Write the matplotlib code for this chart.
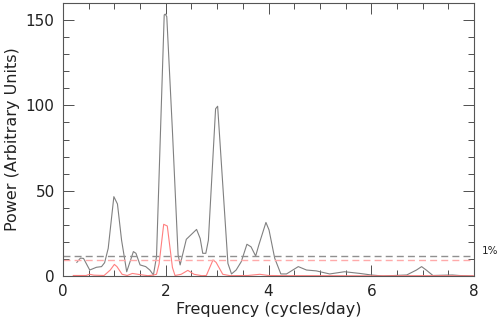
import matplotlib
matplotlib.use("Agg")
import matplotlib.pyplot as plt
from matplotlib.ticker import MultipleLocator

# Data
gray_x = [0.27, 0.34, 0.40, 0.52, 0.65, 0.75, 0.81, 0.88, 0.99, 1.06, 1.14, 1.24,
          1.37, 1.42, 1.50, 1.61, 1.69, 1.76, 1.82, 1.97, 1.99, 2.02, 2.13, 2.24,
          2.28, 2.40, 2.60, 2.67, 2.72, 2.78, 2.83, 2.97, 3.01, 3.21, 3.28, 3.37,
          3.47, 3.58, 3.66, 3.75, 3.81, 3.95, 4.01, 4.12, 4.24, 4.35, 4.58, 4.74,
          4.93, 5.19, 5.48, 5.78, 6.00, 6.23, 6.69, 6.88, 6.98, 7.07, 7.20, 7.58,
          7.71, 7.97]
gray_y = [8.0, 10.5, 10.3, 3.5, 5.1, 5.5, 7.8, 16.2, 46.5, 42.2, 21.0, 2.5,
          14.3, 13.3, 6.5, 5.5, 3.5, 0.6, 11.3, 153.0, 153.5, 152.0, 85.0, 12.5,
          6.5, 21.5, 27.3, 22.0, 13.3, 13.3, 21.0, 98.0, 99.5, 7.4, 1.2, 3.5,
          8.4, 18.6, 17.1, 11.7, 18.0, 31.4, 27.0, 10.5, 1.2, 1.2, 5.5, 3.5,
          3.0, 1.2, 2.5, 1.5, 0.6, 0.0, 0.6, 3.5, 5.5, 3.5, 0.3, 0.6,
          0.3, 0.0]

red_x = [0.20, 0.45, 0.52, 0.60, 0.80, 0.92, 1.00, 1.05, 1.15, 1.25, 1.35, 1.50,
         1.65, 1.75, 1.82, 1.87, 1.96, 2.03, 2.13, 2.18, 2.30, 2.43, 2.55, 2.70,
         2.79, 2.92, 2.98, 3.11, 3.25, 3.60, 3.83, 4.00, 4.30, 5.00, 6.00, 7.00,
         8.00]
red_y = [0.3, 0.3, 1.0, 0.5, 0.3, 3.5, 6.8, 5.5, 1.0, 0.3, 1.5, 0.8,
         0.2, 0.5, 1.0, 7.0, 30.3, 29.3, 5.0, 0.3, 1.0, 3.3, 1.0, 0.2,
         0.3, 9.4, 8.0, 1.0, 0.2, 0.3, 1.0, 0.3, 0.2, 0.2, 0.1, 0.2,
         0.1]

gray_level = 12.0
red_level = 9.5
level_label = "1%"

plt.rcParams['font.family'] = ['DejaVu Sans']

fig = plt.figure(figsize=(5.0, 3.24), dpi=100)
ax = fig.add_axes([63/500, 1 - 276/324, (474-63)/500, (276-3)/324])

ax.plot(gray_x, gray_y, color='#808080', lw=0.8)
ax.plot(red_x, red_y, color='#ff7f7f', lw=0.8)
ax.axhline(gray_level, color='#909090', lw=1.0, ls=(0, (5, 3)))
ax.axhline(red_level, color='#ffaaaa', lw=1.0, ls=(0, (5, 3)))
ax.text(1.02, gray_level, level_label, transform=ax.get_yaxis_transform(),
        fontsize=7.5, va='bottom', ha='left', color='#222222')

ax.set_xlim(0, 8)
ax.set_ylim(0, 160)
ax.xaxis.set_major_locator(MultipleLocator(2))
ax.xaxis.set_minor_locator(MultipleLocator(0.5))
ax.yaxis.set_major_locator(MultipleLocator(50))
ax.yaxis.set_minor_locator(MultipleLocator(10))
ax.tick_params(which='both', direction='in', top=True, right=True,
               colors='#333333', labelcolor='#222222', labelsize=11, width=0.6)
ax.tick_params(which='major', length=8, pad=6)
ax.tick_params(which='minor', length=4)
for s in ax.spines.values():
    s.set_color('#555555')
    s.set_linewidth(0.8)

ax.set_xlabel("Frequency (cycles/day)", fontsize=11.5, color='#222222', labelpad=2)
ax.set_ylabel("Power (Arbitrary Units)", fontsize=11.5, color='#222222', labelpad=4)

fig.savefig("out.png", dpi=100)
